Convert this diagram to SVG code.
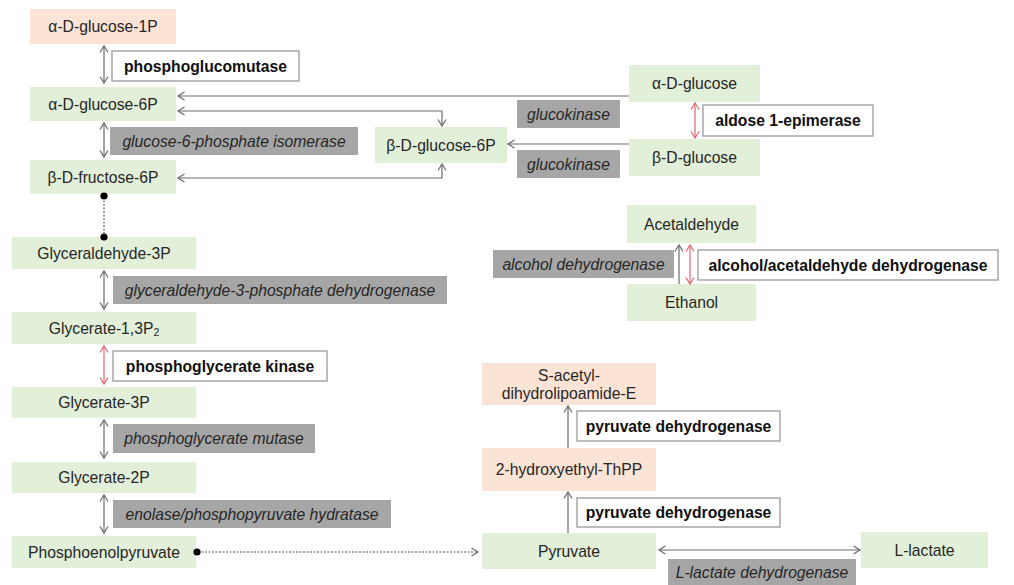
<svg xmlns="http://www.w3.org/2000/svg" width="1014" height="585" viewBox="0 0 1014 585">
<style>
text{font-family:"Liberation Sans",Arial,sans-serif;font-size:15.7px;fill:#262626;text-anchor:middle;dominant-baseline:central}
.g{fill:#e2efd9}
.s{fill:#fbe3d6}
.gy{fill:#a6a6a6}
.w{fill:#ffffff;stroke:#a6a6a6;stroke-width:1.5}
.it{font-style:italic}
.b{font-weight:bold;fill:#111}
.ln{fill:none;stroke:#6b6b6b;stroke-width:1.2}
.rd{fill:none;stroke:#e06672;stroke-width:1.2}
.ds{fill:none;stroke:#555;stroke-width:1.1;stroke-dasharray:2 1.5}
</style>
<defs>
<marker id="a" markerUnits="userSpaceOnUse" markerWidth="10" markerHeight="10" refX="7" refY="4" orient="auto-start-reverse" overflow="visible">
<path d="M0.5,0 L7,4 L0.5,8" fill="none" stroke="#6b6b6b" stroke-width="1.2"/>
</marker>
<marker id="r" markerUnits="userSpaceOnUse" markerWidth="10" markerHeight="10" refX="7" refY="4" orient="auto-start-reverse" overflow="visible">
<path d="M0.5,0 L7,4 L0.5,8" fill="none" stroke="#e06672" stroke-width="1.2"/>
</marker>
</defs>
<rect width="1014" height="585" fill="#ffffff"/>

<g id="n-ag1p"><rect class="s" x="30" y="9" width="146" height="35"/><text x="103" y="26.5">α-D-glucose-1P</text></g>
<g id="n-ag6p"><rect class="g" x="30" y="87" width="146" height="34"/><text x="103" y="104">α-D-glucose-6P</text></g>
<g id="n-bf6p"><rect class="g" x="30" y="160" width="146" height="34"/><text x="103" y="177">β-D-fructose-6P</text></g>
<g id="n-g3p"><rect class="g" x="12" y="237" width="184" height="32"/><text x="104" y="253">Glyceraldehyde-3P</text></g>
<g id="n-g13p2"><rect class="g" x="12" y="312" width="184" height="32"/><text x="104" y="328">Glycerate-1,3P<tspan font-size="10.5" dy="4">2</tspan></text></g>
<g id="n-g3"><rect class="g" x="12" y="387" width="184" height="31"/><text x="104" y="402.5">Glycerate-3P</text></g>
<g id="n-g2"><rect class="g" x="12" y="462" width="184" height="31"/><text x="104" y="477.5">Glycerate-2P</text></g>
<g id="n-pep"><rect class="g" x="12" y="536" width="184" height="32"/><text x="104" y="552">Phosphoenolpyruvate</text></g>
<g id="n-bg6p"><rect class="g" x="375" y="127" width="132" height="36"/><text x="441" y="145">β-D-glucose-6P</text></g>
<g id="n-ag"><rect class="g" x="629" y="65" width="131" height="37"/><text x="694.5" y="83.5">α-D-glucose</text></g>
<g id="n-bg"><rect class="g" x="629" y="139" width="131" height="37"/><text x="694.5" y="157.5">β-D-glucose</text></g>
<g id="n-acet"><rect class="g" x="627" y="205" width="129" height="38"/><text x="691.5" y="224">Acetaldehyde</text></g>
<g id="n-eth"><rect class="g" x="627" y="284" width="129" height="37"/><text x="691.5" y="302.5">Ethanol</text></g>
<g id="n-sacet"><rect class="s" x="482" y="363" width="174" height="42"/><text x="569" y="375">S-acetyl-</text><text x="569" y="393">dihydrolipoamide-E</text></g>
<g id="n-hthpp"><rect class="s" x="482" y="448" width="174" height="43"/><text x="569" y="469.5">2-hydroxyethyl-ThPP</text></g>
<g id="n-pyr"><rect class="g" x="482" y="533" width="174" height="36"/><text x="569" y="551">Pyruvate</text></g>
<g id="n-lac"><rect class="g" x="861" y="532" width="127" height="36"/><text x="924.5" y="550">L-lactate</text></g>

<g id="e-pgm"><rect class="w" x="112" y="51" width="187" height="30"/><text class="b" x="205.5" y="66">phosphoglucomutase</text></g>
<g id="e-gpi"><rect class="gy" x="110" y="127" width="248" height="28"/><text class="it" x="234" y="141">glucose-6-phosphate isomerase</text></g>
<g id="e-gk1"><rect class="gy" x="517" y="100" width="103" height="28"/><text class="it" x="568.5" y="114">glucokinase</text></g>
<g id="e-gk2"><rect class="gy" x="517" y="150" width="103" height="28"/><text class="it" x="568.5" y="164">glucokinase</text></g>
<g id="e-ae"><rect class="w" x="703" y="105" width="170" height="31"/><text class="b" x="788" y="120.5">aldose 1-epimerase</text></g>
<g id="e-adh"><rect class="gy" x="493" y="250" width="181" height="28"/><text class="it" x="583.5" y="264">alcohol dehydrogenase</text></g>
<g id="e-aadh"><rect class="w" x="698" y="250" width="300" height="30"/><text class="b" x="848" y="265">alcohol/acetaldehyde dehydrogenase</text></g>
<g id="e-gapdh"><rect class="gy" x="113" y="276" width="334" height="28"/><text class="it" x="280" y="290">glyceraldehyde-3-phosphate dehydrogenase</text></g>
<g id="e-pgk"><rect class="w" x="113" y="351" width="214" height="30"/><text class="b" x="220" y="366">phosphoglycerate kinase</text></g>
<g id="e-pgmu"><rect class="gy" x="113" y="424" width="202" height="29"/><text class="it" x="214" y="438.5">phosphoglycerate mutase</text></g>
<g id="e-eno"><rect class="gy" x="113" y="500" width="278" height="28"/><text class="it" x="252" y="514">enolase/phosphopyruvate hydratase</text></g>
<g id="e-pdh1"><rect class="w" x="577" y="411" width="203" height="30"/><text class="b" x="678.5" y="426">pyruvate dehydrogenase</text></g>
<g id="e-pdh2"><rect class="w" x="577" y="498" width="203" height="29"/><text class="b" x="678.5" y="512.5">pyruvate dehydrogenase</text></g>
<g id="e-ldh"><rect class="gy" x="668" y="559" width="188" height="28"/><text class="it" x="762" y="572">L-lactate dehydrogenase</text></g>

<g id="connectors">
<path class="ln" d="M104,46 V83" marker-start="url(#a)" marker-end="url(#a)"/>
<path class="ln" d="M104,123 V157" marker-start="url(#a)" marker-end="url(#a)"/>
<path class="ds" d="M104,197 V236"/>
<circle cx="104" cy="196" r="3.6" fill="#000"/>
<circle cx="104" cy="237" r="3.6" fill="#000"/>
<path class="ln" d="M104,271 V309" marker-start="url(#a)" marker-end="url(#a)"/>
<path class="rd" d="M104,346 V384" marker-start="url(#r)" marker-end="url(#r)"/>
<path class="ln" d="M104,420 V458" marker-start="url(#a)" marker-end="url(#a)"/>
<path class="ln" d="M104,495 V533" marker-start="url(#a)" marker-end="url(#a)"/>
<path class="ds" d="M198,552 H478" marker-end="url(#a)"/>
<circle cx="197" cy="552" r="3.6" fill="#000"/>
<path class="ln" d="M629,96 H178" marker-end="url(#a)"/>
<path class="ln" d="M178,111 H442 V126" marker-start="url(#a)" marker-end="url(#a)"/>
<path class="ln" d="M178,178 H442 V164" marker-start="url(#a)" marker-end="url(#a)"/>
<path class="ln" d="M629,144 H508" marker-end="url(#a)"/>
<path class="rd" d="M695,103 V138" marker-start="url(#r)" marker-end="url(#r)"/>
<path class="ln" d="M679,284 V245" marker-end="url(#a)"/>
<path class="rd" d="M690,245 V284" marker-start="url(#r)" marker-end="url(#r)"/>
<path class="ln" d="M568,533 V492" marker-end="url(#a)"/>
<path class="ln" d="M568,448 V406" marker-end="url(#a)"/>
<path class="ln" d="M659,550 H860" marker-start="url(#a)" marker-end="url(#a)"/>
</g>
</svg>
